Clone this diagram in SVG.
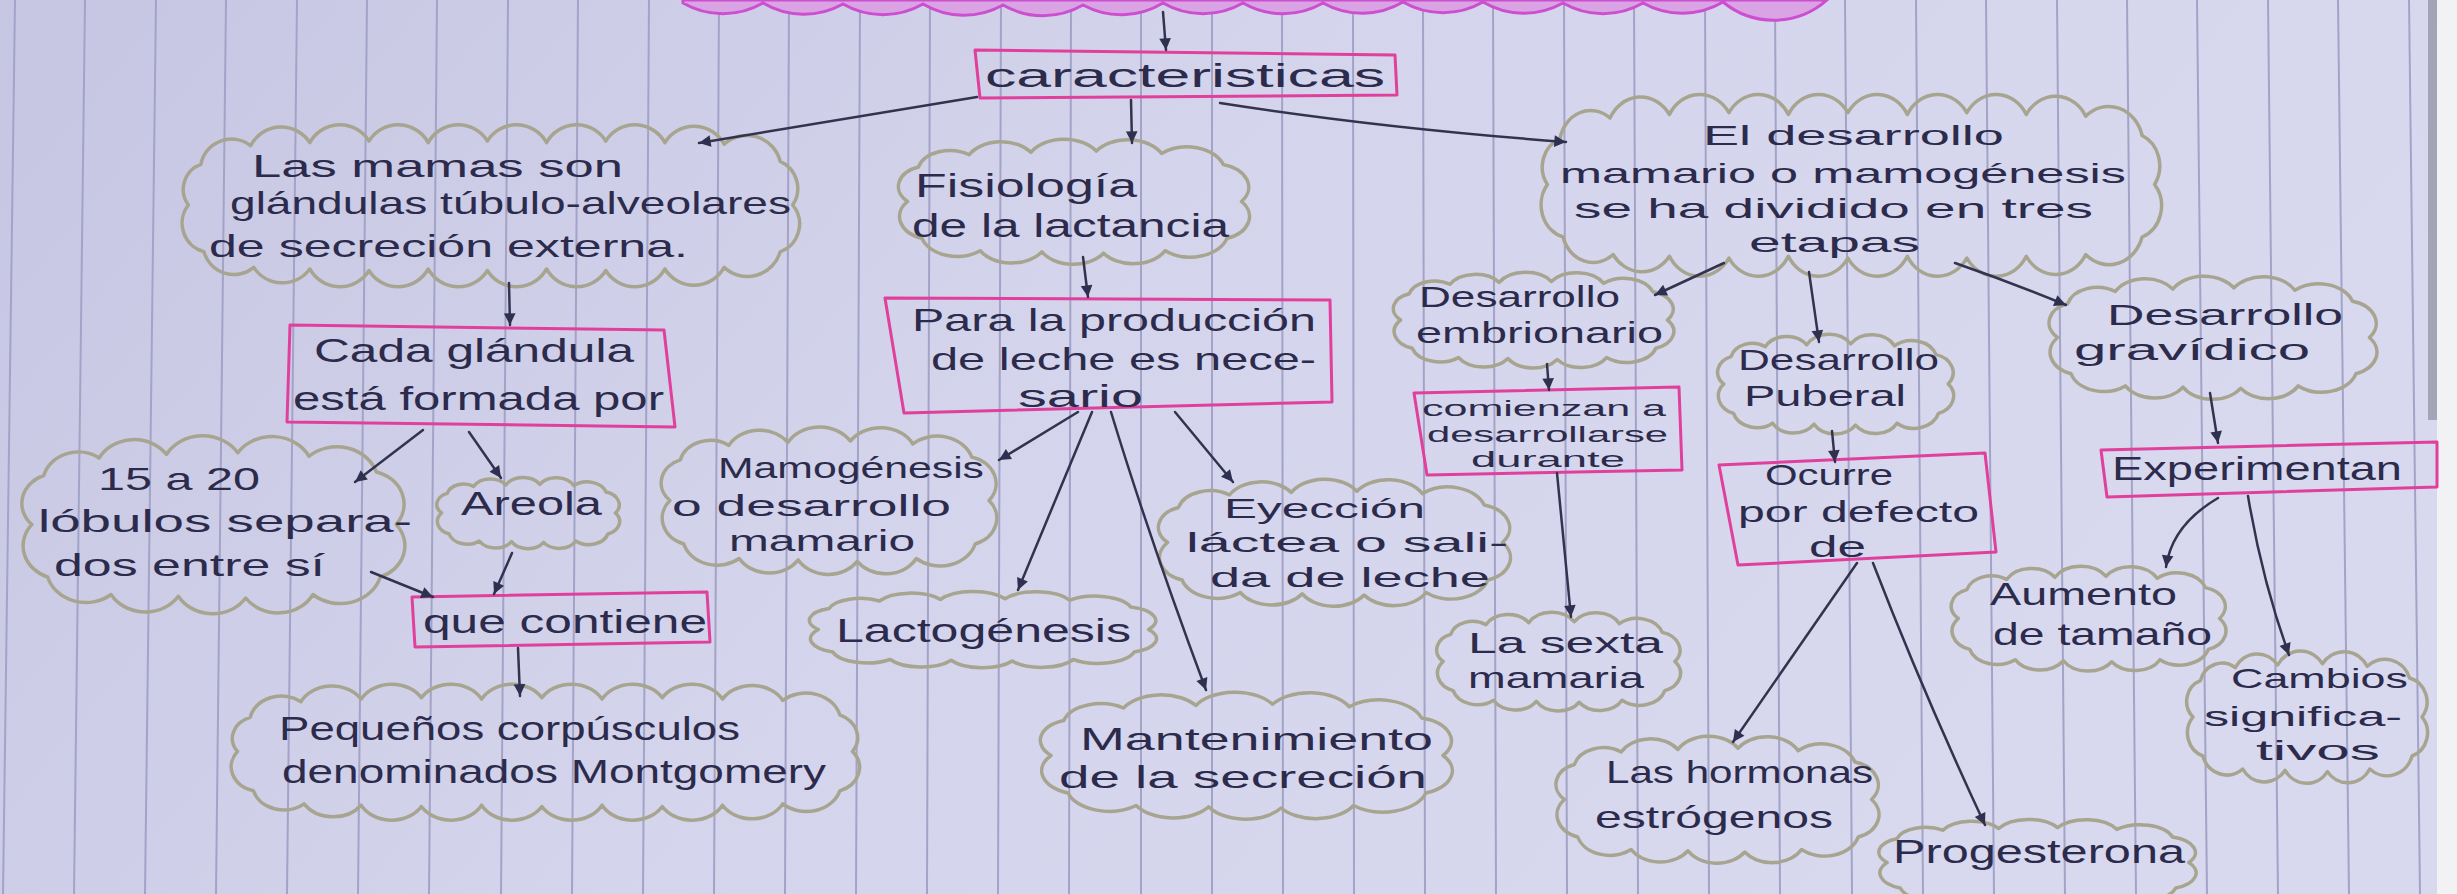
<svg xmlns="http://www.w3.org/2000/svg" xmlns:xlink="http://www.w3.org/1999/xlink" width="2457" height="894" viewBox="0 0 2457 894">
<style>
.cl{fill:none;stroke:#a7a58f;stroke-width:3.5;vector-effect:non-scaling-stroke;stroke-linejoin:round}
.bx{fill:none;stroke:#e0409c;stroke-width:3;stroke-linejoin:round}
.t{font-family:"Liberation Sans","DejaVu Sans",sans-serif;fill:#2c2b4c}
.f36{font-size:36px}.f34{font-size:34px}.f32{font-size:32px}.f30{font-size:30px}.f28{font-size:28px}.f22{font-size:22px}
.ln{fill:none;stroke:#33334f;stroke-width:2.5;stroke-linecap:round}
.rule{fill:none;stroke:#a3a3c8;stroke-width:2}
</style>
<defs>
<linearGradient id="paper" x1="0" y1="0" x2="1" y2="0.3">
<stop offset="0" stop-color="#c6c6e3"/>
<stop offset="0.5" stop-color="#d4d4ec"/>
<stop offset="1" stop-color="#d8d8ef"/>
</linearGradient>
<symbol id="cloud" viewBox="0 0 200 100" preserveAspectRatio="none" overflow="visible">
<path class="cl" d="M14,22 A18,18 0 0 1 42,12 A20,20 0 0 1 76,10 A21,21 0 0 1 112,9 A21,21 0 0 1 148,11 A21,21 0 0 1 182,20 A19,19 0 0 1 192,50 A19,19 0 0 1 184,80 A21,21 0 0 1 150,90 A20,20 0 0 1 116,92 A20,20 0 0 1 82,91 A20,20 0 0 1 48,90 A20,20 0 0 1 16,80 A19,19 0 0 1 8,50 A17,17 0 0 1 14,22 Z"/>
</symbol>
<symbol id="cloudw" viewBox="0 0 400 100" preserveAspectRatio="none" overflow="visible">
<path class="cl" d="M14,24 A20,20 0 0 1 46,12 A22,22 0 0 1 84,10 A22,22 0 0 1 122,9 A22,22 0 0 1 160,10 A22,22 0 0 1 198,9 A22,22 0 0 1 236,10 A22,22 0 0 1 274,9 A22,22 0 0 1 312,10 A22,22 0 0 1 350,11 A22,22 0 0 1 386,22 A19,19 0 0 1 394,50 A19,19 0 0 1 386,80 A22,22 0 0 1 350,90 A22,22 0 0 1 312,91 A22,22 0 0 1 274,92 A22,22 0 0 1 236,91 A22,22 0 0 1 198,92 A22,22 0 0 1 160,91 A22,22 0 0 1 122,92 A22,22 0 0 1 84,91 A22,22 0 0 1 48,90 A20,20 0 0 1 16,80 A19,19 0 0 1 6,50 A17,17 0 0 1 14,24 Z"/>
</symbol>
<marker id="ah" viewBox="0 0 12 12" refX="11" refY="6" markerWidth="14" markerHeight="14" markerUnits="userSpaceOnUse" orient="auto">
<path d="M1,1 L11,6 L1,11 Z" fill="#2f2f4f"/>
</marker>
</defs>

<g id="paper-bg">
<rect x="0" y="0" width="2457" height="894" fill="url(#paper)"/>
<path class="rule" d="M15,0 L3,894 M85,0 L74,894 M156,0 L145,894 M226,0 L216,894 M297,0 L287,894 M367,0 L358,894 M437,0 L429,894 M508,0 L501,894 M578,0 L572,894 M649,0 L643,894 M719,0 L714,894 M789,0 L785,894 M860,0 L856,894 M930,0 L927,894 M1001,0 L998,894 M1071,0 L1069,894 M1141,0 L1141,894 M1212,0 L1212,894 M1282,0 L1283,894 M1353,0 L1354,894 M1423,0 L1425,894 M1493,0 L1496,894 M1564,0 L1567,894 M1634,0 L1638,894 M1705,0 L1709,894 M1775,0 L1780,894 M1845,0 L1852,894 M1916,0 L1923,894 M1986,0 L1994,894 M2057,0 L2065,894 M2127,0 L2136,894 M2197,0 L2207,894 M2268,0 L2278,894 M2338,0 L2349,894 M2409,0 L2420,894"/>
<rect x="2437" y="0" width="20" height="894" fill="#f2f2f5"/>
<rect x="2428" y="0" width="9" height="420" fill="#6f6f80" opacity="0.5"/>
</g>

<g id="n-top">
<path d="M683,0 L683,3 A80,80 0 0 0 763,3 A80,80 0 0 0 843,4 A80,80 0 0 0 923,4 A80,80 0 0 0 1003,5 A80,80 0 0 0 1083,5 A80,80 0 0 0 1163,3 A80,80 0 0 0 1243,3 A80,80 0 0 0 1323,3 A80,80 0 0 0 1403,2 A80,80 0 0 0 1483,2 A80,80 0 0 0 1563,3 A80,80 0 0 0 1643,3 A80,80 0 0 0 1723,2 A80,80 0 0 0 1827,0 Z" fill="#d9a3e4" stroke="#cc4fcf" stroke-width="3"/>
</g>

<g id="n-caracteristicas">
<path class="bx" d="M975,50 L1395,55 L1397,95 L980,98 Z"/>
<text class="t f34" x="985" y="87" textLength="400" lengthAdjust="spacingAndGlyphs">caracteristicas</text>
</g>

<g id="n-mamas">
<use href="#cloudw" x="179" y="127" width="623" height="156"/>
<text class="t f32" x="252" y="177" textLength="371" lengthAdjust="spacingAndGlyphs">Las mamas son</text>
<text class="t f32" x="230" y="214" textLength="561" lengthAdjust="spacingAndGlyphs">glándulas túbulo-alveolares</text>
<text class="t f32" x="209" y="257" textLength="479" lengthAdjust="spacingAndGlyphs">de secreción externa.</text>
</g>

<g id="n-cada">
<path class="bx" d="M290,325 L664,330 L675,427 L287,422 Z"/>
<text class="t f34" x="314" y="362" textLength="320" lengthAdjust="spacingAndGlyphs">Cada glándula</text>
<text class="t f34" x="293" y="410" textLength="371" lengthAdjust="spacingAndGlyphs">está formada por</text>
</g>

<g id="n-lobulos">
<use href="#cloud" x="16" y="437" width="396" height="175"/>
<text class="t f32" x="98" y="490" textLength="162" lengthAdjust="spacingAndGlyphs">15 a 20</text>
<text class="t f32" x="38" y="532" textLength="374" lengthAdjust="spacingAndGlyphs">lóbulos separa-</text>
<text class="t f32" x="54" y="576" textLength="271" lengthAdjust="spacingAndGlyphs">dos entre sí</text>
</g>

<g id="n-areola">
<use href="#cloud" x="434" y="478" width="189" height="70"/>
<text class="t f34" x="461" y="515" textLength="141" lengthAdjust="spacingAndGlyphs">Areola</text>
</g>

<g id="n-contiene">
<path class="bx" d="M412,597 L707,592 L710,642 L415,647 Z"/>
<text class="t f34" x="423" y="633" textLength="284" lengthAdjust="spacingAndGlyphs">que contiene</text>
</g>

<g id="n-montgomery">
<use href="#cloudw" x="228" y="686" width="634" height="131"/>
<text class="t f34" x="279" y="740" textLength="461" lengthAdjust="spacingAndGlyphs">Pequeños corpúsculos</text>
<text class="t f34" x="282" y="783" textLength="544" lengthAdjust="spacingAndGlyphs">denominados Montgomery</text>
</g>

<g id="n-fisiologia">
<use href="#cloud" x="893" y="140" width="363" height="123"/>
<text class="t f34" x="915" y="197" textLength="222" lengthAdjust="spacingAndGlyphs">Fisiología</text>
<text class="t f34" x="912" y="237" textLength="317" lengthAdjust="spacingAndGlyphs">de la lactancia</text>
</g>

<g id="n-para">
<path class="bx" d="M885,298 L1330,300 L1332,402 L904,413 Z"/>
<text class="t f32" x="912" y="331" textLength="404" lengthAdjust="spacingAndGlyphs">Para la producción</text>
<text class="t f32" x="931" y="370" textLength="385" lengthAdjust="spacingAndGlyphs">de leche es nece-</text>
<text class="t f32" x="1018" y="407" textLength="125" lengthAdjust="spacingAndGlyphs">sario</text>
</g>

<g id="n-mamogenesis">
<use href="#cloud" x="656" y="428" width="347" height="145"/>
<text class="t f30" x="718" y="478" textLength="266" lengthAdjust="spacingAndGlyphs">Mamogénesis</text>
<text class="t f30" x="672" y="516" textLength="279" lengthAdjust="spacingAndGlyphs">o desarrollo</text>
<text class="t f30" x="729" y="551" textLength="186" lengthAdjust="spacingAndGlyphs">mamario</text>
</g>

<g id="n-lactogenesis">
<use href="#cloud" x="804" y="592" width="359" height="75"/>
<text class="t f34" x="836" y="642" textLength="295" lengthAdjust="spacingAndGlyphs">Lactogénesis</text>
</g>

<g id="n-eyeccion">
<use href="#cloud" x="1153" y="480" width="364" height="125"/>
<text class="t f28" x="1224" y="518" textLength="201" lengthAdjust="spacingAndGlyphs">Eyección</text>
<text class="t f28" x="1186" y="552" textLength="322" lengthAdjust="spacingAndGlyphs">láctea o sali-</text>
<text class="t f28" x="1210" y="587" textLength="280" lengthAdjust="spacingAndGlyphs">da de leche</text>
</g>

<g id="n-mantenimiento">
<use href="#cloud" x="1034" y="693" width="426" height="125"/>
<text class="t f32" x="1080" y="750" textLength="353" lengthAdjust="spacingAndGlyphs">Mantenimiento</text>
<text class="t f32" x="1059" y="788" textLength="368" lengthAdjust="spacingAndGlyphs">de la secreción</text>
</g>

<g id="n-desarrollo">
<use href="#cloudw" x="1538" y="97" width="626" height="175"/>
<text class="t f28" x="1703" y="145" textLength="301" lengthAdjust="spacingAndGlyphs">El desarrollo</text>
<text class="t f28" x="1560" y="183" textLength="566" lengthAdjust="spacingAndGlyphs">mamario o mamogénesis</text>
<text class="t f28" x="1574" y="218" textLength="519" lengthAdjust="spacingAndGlyphs">se ha dividido en tres</text>
<text class="t f28" x="1749" y="252" textLength="171" lengthAdjust="spacingAndGlyphs">etapas</text>
</g>

<g id="n-embrionario">
<use href="#cloud" x="1389" y="273" width="290" height="94"/>
<text class="t f30" x="1419" y="307" textLength="201" lengthAdjust="spacingAndGlyphs">Desarrollo</text>
<text class="t f30" x="1416" y="343" textLength="247" lengthAdjust="spacingAndGlyphs">embrionario</text>
</g>

<g id="n-comienzan">
<path class="bx" d="M1414,393 L1679,387 L1682,470 L1427,475 Z"/>
<text class="t f22" x="1422" y="416" textLength="244" lengthAdjust="spacingAndGlyphs">comienzan a</text>
<text class="t f22" x="1427" y="442" textLength="241" lengthAdjust="spacingAndGlyphs">desarrollarse</text>
<text class="t f22" x="1471" y="467" textLength="154" lengthAdjust="spacingAndGlyphs">durante</text>
</g>

<g id="n-sexta">
<use href="#cloud" x="1433" y="613" width="252" height="97"/>
<text class="t f30" x="1468" y="653" textLength="195" lengthAdjust="spacingAndGlyphs">La sexta</text>
<text class="t f30" x="1468" y="688" textLength="176" lengthAdjust="spacingAndGlyphs">mamaria</text>
</g>

<g id="n-puberal">
<use href="#cloud" x="1714" y="335" width="244" height="98"/>
<text class="t f30" x="1738" y="370" textLength="201" lengthAdjust="spacingAndGlyphs">Desarrollo</text>
<text class="t f30" x="1744" y="406" textLength="162" lengthAdjust="spacingAndGlyphs">Puberal</text>
</g>

<g id="n-ocurre">
<path class="bx" d="M1719,465 L1985,453 L1996,552 L1738,565 Z"/>
<text class="t f30" x="1765" y="485" textLength="128" lengthAdjust="spacingAndGlyphs">Ocurre</text>
<text class="t f30" x="1738" y="522" textLength="241" lengthAdjust="spacingAndGlyphs">por defecto</text>
<text class="t f30" x="1809" y="557" textLength="57" lengthAdjust="spacingAndGlyphs">de</text>
</g>

<g id="n-hormonas">
<use href="#cloud" x="1551" y="737" width="334" height="125"/>
<text class="t f32" x="1606" y="783" textLength="267" lengthAdjust="spacingAndGlyphs">Las hormonas</text>
<text class="t f32" x="1595" y="828" textLength="238" lengthAdjust="spacingAndGlyphs">estrógenos</text>
</g>

<g id="n-progesterona">
<use href="#cloud" x="1874" y="820" width="328" height="85"/>
<text class="t f34" x="1893" y="863" textLength="292" lengthAdjust="spacingAndGlyphs">Progesterona</text>
</g>

<g id="n-gravidico">
<use href="#cloud" x="2044" y="277" width="339" height="121"/>
<text class="t f30" x="2107" y="325" textLength="236" lengthAdjust="spacingAndGlyphs">Desarrollo</text>
<text class="t f30" x="2074" y="360" textLength="236" lengthAdjust="spacingAndGlyphs">gravídico</text>
</g>

<g id="n-experimentan">
<path class="bx" d="M2101,450 L2437,442 L2437,487 L2107,497 Z"/>
<text class="t f34" x="2112" y="480" textLength="290" lengthAdjust="spacingAndGlyphs">Experimentan</text>
</g>

<g id="n-aumento">
<use href="#cloud" x="1947" y="567" width="284" height="103"/>
<text class="t f32" x="1990" y="605" textLength="187" lengthAdjust="spacingAndGlyphs">Aumento</text>
<text class="t f32" x="1993" y="645" textLength="219" lengthAdjust="spacingAndGlyphs">de tamaño</text>
</g>

<g id="n-cambios">
<use href="#cloud" x="2183" y="652" width="249" height="130"/>
<text class="t f28" x="2231" y="688" textLength="177" lengthAdjust="spacingAndGlyphs">Cambios</text>
<text class="t f28" x="2204" y="726" textLength="198" lengthAdjust="spacingAndGlyphs">significa-</text>
<text class="t f28" x="2256" y="760" textLength="124" lengthAdjust="spacingAndGlyphs">tivos</text>
</g>

<g id="connectors">
<path class="ln" marker-end="url(#ah)" d="M1163,12 L1166,50"/>
<path class="ln" marker-end="url(#ah)" d="M977,97 L699,143"/>
<path class="ln" marker-end="url(#ah)" d="M1131,100 L1132,143"/>
<path class="ln" marker-end="url(#ah)" d="M1220,103 Q1380,128 1566,142"/>
<path class="ln" marker-end="url(#ah)" d="M509,283 L510,325"/>
<path class="ln" marker-end="url(#ah)" d="M423,430 L355,482"/>
<path class="ln" marker-end="url(#ah)" d="M469,432 L501,478"/>
<path class="ln" marker-end="url(#ah)" d="M371,572 L433,597"/>
<path class="ln" marker-end="url(#ah)" d="M512,553 L494,594"/>
<path class="ln" marker-end="url(#ah)" d="M518,648 L520,696"/>
<path class="ln" marker-end="url(#ah)" d="M1083,257 L1088,297"/>
<path class="ln" marker-end="url(#ah)" d="M1078,412 L999,460"/>
<path class="ln" marker-end="url(#ah)" d="M1092,412 L1018,590"/>
<path class="ln" marker-end="url(#ah)" d="M1111,412 Q1150,540 1206,690"/>
<path class="ln" marker-end="url(#ah)" d="M1175,412 L1233,482"/>
<path class="ln" marker-end="url(#ah)" d="M1724,263 L1655,295"/>
<path class="ln" marker-end="url(#ah)" d="M1809,272 L1819,342"/>
<path class="ln" marker-end="url(#ah)" d="M1955,263 Q2010,282 2066,305"/>
<path class="ln" marker-end="url(#ah)" d="M1547,364 L1549,390"/>
<path class="ln" marker-end="url(#ah)" d="M1557,473 L1571,617"/>
<path class="ln" marker-end="url(#ah)" d="M1832,431 L1835,462"/>
<path class="ln" marker-end="url(#ah)" d="M1857,563 L1733,742"/>
<path class="ln" marker-end="url(#ah)" d="M1873,563 Q1922,690 1985,825"/>
<path class="ln" marker-end="url(#ah)" d="M2210,393 L2218,443"/>
<path class="ln" marker-end="url(#ah)" d="M2218,498 Q2172,525 2166,567"/>
<path class="ln" marker-end="url(#ah)" d="M2248,496 Q2262,580 2289,655"/>
</g>
</svg>
